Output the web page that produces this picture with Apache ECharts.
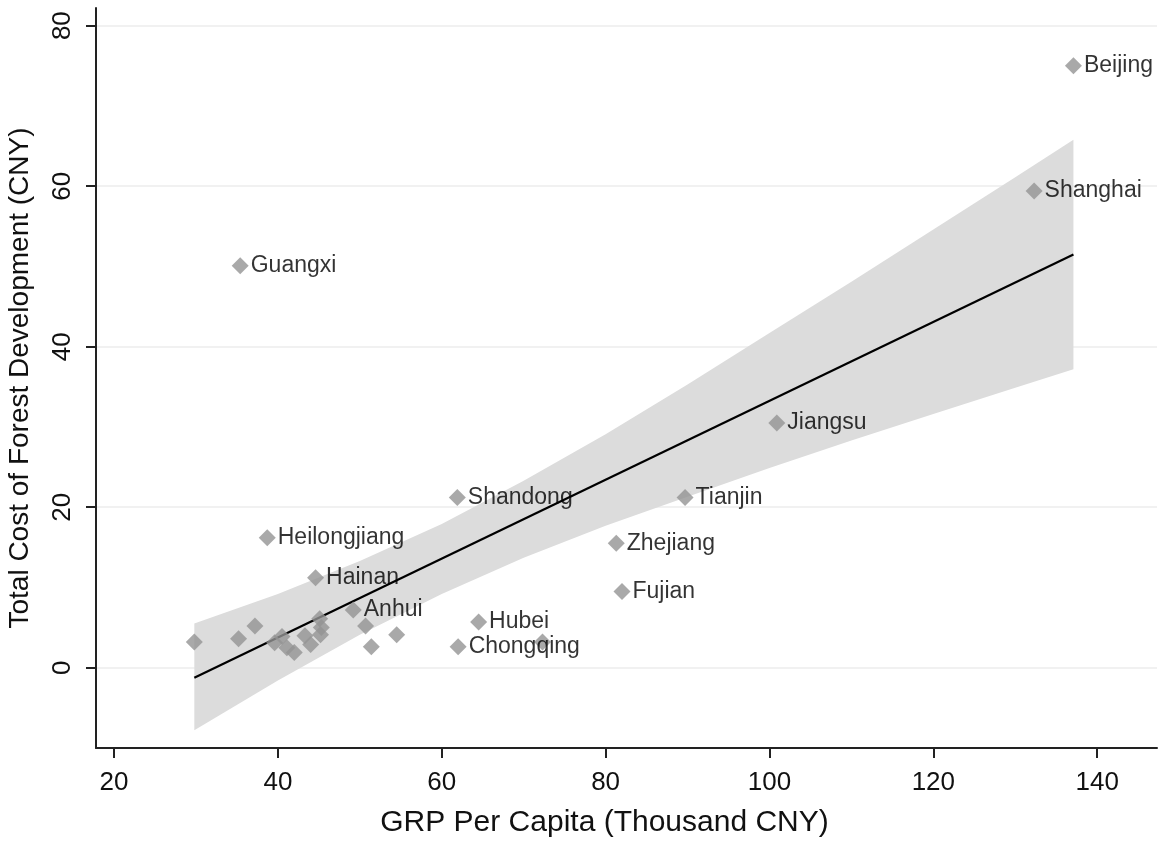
<!DOCTYPE html>
<html>
<head>
<meta charset="utf-8">
<script src="https://cdn.jsdelivr.net/npm/echarts@6/dist/echarts.min.js"></script>
<style>
  html, body { margin: 0; padding: 0; background: #fff; }
  #chart { width: 1158px; height: 845px; }
</style>
</head>
<body>
<div id="chart"></div>
<script>
// provinces ('' = unlabeled point)
var provinces = ['Beijing', 'Shanghai', 'Guangxi', 'Jiangsu', 'Shandong', 'Tianjin',
  'Heilongjiang', 'Zhejiang', 'Hainan', 'Fujian', 'Anhui', 'Hubei', 'Chongqing',
  '', '', '', '', '', '', '', '', '', '', '', '', '', '', '', ''];
// GRP per capita (thousand CNY)
var grp = [137.1, 132.3, 35.4, 100.9, 61.9, 89.7,
  38.7, 81.3, 44.6, 82.0, 49.2, 64.5, 62.0,
  72.3, 50.7, 54.5, 51.4, 29.8, 35.2, 37.2, 39.6, 40.5, 41.1, 42.0, 43.3, 44.0, 45.1, 45.3, 45.2];
// total cost of forest development (CNY)
var cost = [75.0, 59.4, 50.1, 30.5, 21.2, 21.2,
  16.2, 15.5, 11.2, 9.5, 7.2, 5.7, 2.6,
  3.2, 5.2, 4.1, 2.6, 3.2, 3.6, 5.2, 3.1, 3.9, 2.5, 1.9, 4.0, 2.9, 6.1, 5.0, 4.1];

// fitted line end points
var fitX = [29.8, 137.1];
var fitY = [-1.25, 51.5];

// confidence band
var bandX    = [29.8, 40, 50, 60, 70, 80, 90, 100, 110, 120, 130, 137.1];
var bandLow  = [-7.8, -1.6, 4.1, 9.2, 13.7, 17.7, 21.3, 24.9, 28.3, 31.6, 34.9, 37.2];
var bandHigh = [5.5, 9.2, 13.3, 17.9, 23.3, 29.1, 35.3, 41.7, 48.1, 54.6, 61.1, 65.8];

var xTicks = [20, 40, 60, 80, 100, 120, 140];
var yTicks = [0, 20, 40, 60, 80];

var font = "'Liberation Sans', Arial, Helvetica, sans-serif";

var chart = echarts.init(document.getElementById('chart'));

var pointData = grp.map(function (x, i) {
  return { value: [x, cost[i]], name: provinces[i] };
});
var bandData = bandX.map(function (x, i) { return [x, bandLow[i], bandHigh[i]]; });

var option = {
  animation: false,
  backgroundColor: '#ffffff',
  grid: { left: 96, right: 1, top: 8, bottom: 97, outerBoundsMode: 'none', containLabel: false },
  xAxis: {
    type: 'value',
    min: 17.8,
    max: 147.3,
    name: 'GRP Per Capita (Thousand CNY)',
    nameLocation: 'middle',
    nameGap: 60,
    nameTextStyle: { fontFamily: font, fontSize: 30, color: '#111', padding: [0, 44, 0, 0] },
    axisLine: { show: true, onZero: false, lineStyle: { color: '#222', width: 2 } },
    axisTick: { show: true, length: 10, customValues: xTicks, lineStyle: { color: '#222', width: 2 } },
    axisLabel: { customValues: xTicks, fontFamily: font, fontSize: 26, color: '#111', margin: 22 },
    splitLine: { show: false }
  },
  yAxis: {
    type: 'value',
    min: -10,
    max: 82.2,
    name: 'Total Cost of Forest Development (CNY)',
    nameLocation: 'middle',
    nameGap: 62,
    nameTextStyle: { fontFamily: font, fontSize: 28, color: '#111' },
    axisLine: { show: true, onZero: false, lineStyle: { color: '#222', width: 2 } },
    axisTick: { show: true, length: 10, customValues: yTicks, lineStyle: { color: '#222', width: 2 } },
    axisLabel: { customValues: yTicks, rotate: 90, fontFamily: font, fontSize: 26, color: '#111', margin: 20 },
    splitLine: { show: false }
  },
  series: [
    {
      type: 'custom',
      data: bandData,
      encode: { x: 0, y: [1, 2] },
      silent: true,
      z: 1,
      renderItem: function (params, api) {
        if (params.dataIndex !== 0) return;
        var pts = [];
        for (var i = 0; i < bandX.length; i++) pts.push(api.coord([bandX[i], bandHigh[i]]));
        for (var j = bandX.length - 1; j >= 0; j--) pts.push(api.coord([bandX[j], bandLow[j]]));
        return { type: 'polygon', shape: { points: pts }, style: { fill: '#dcdcdc' } };
      }
    },
    {
      // horizontal gridlines
      type: 'line',
      data: [],
      z: 0,
      markLine: {
        silent: true,
        z: 0,
        symbol: 'none',
        label: { show: false },
        lineStyle: { color: '#ededed', width: 1.5, type: 'solid' },
        data: yTicks.map(function (v) { return { yAxis: v }; })
      }
    },
    {
      type: 'line',
      data: fitX.map(function (x, i) { return [x, fitY[i]]; }),
      showSymbol: false,
      lineStyle: { color: '#000', width: 2.2 },
      z: 3
    },
    {
      type: 'scatter',
      data: pointData,
      symbol: 'diamond',
      symbolSize: 17,
      itemStyle: { color: '#949494' },
      z: 4,
      label: {
        show: true,
        position: 'right',
        distance: 2,
        formatter: '{b}',
        fontFamily: font,
        fontSize: 23,
        color: '#000'
      }
    }
  ]
};

chart.setOption(option);
</script>
</body>
</html>
